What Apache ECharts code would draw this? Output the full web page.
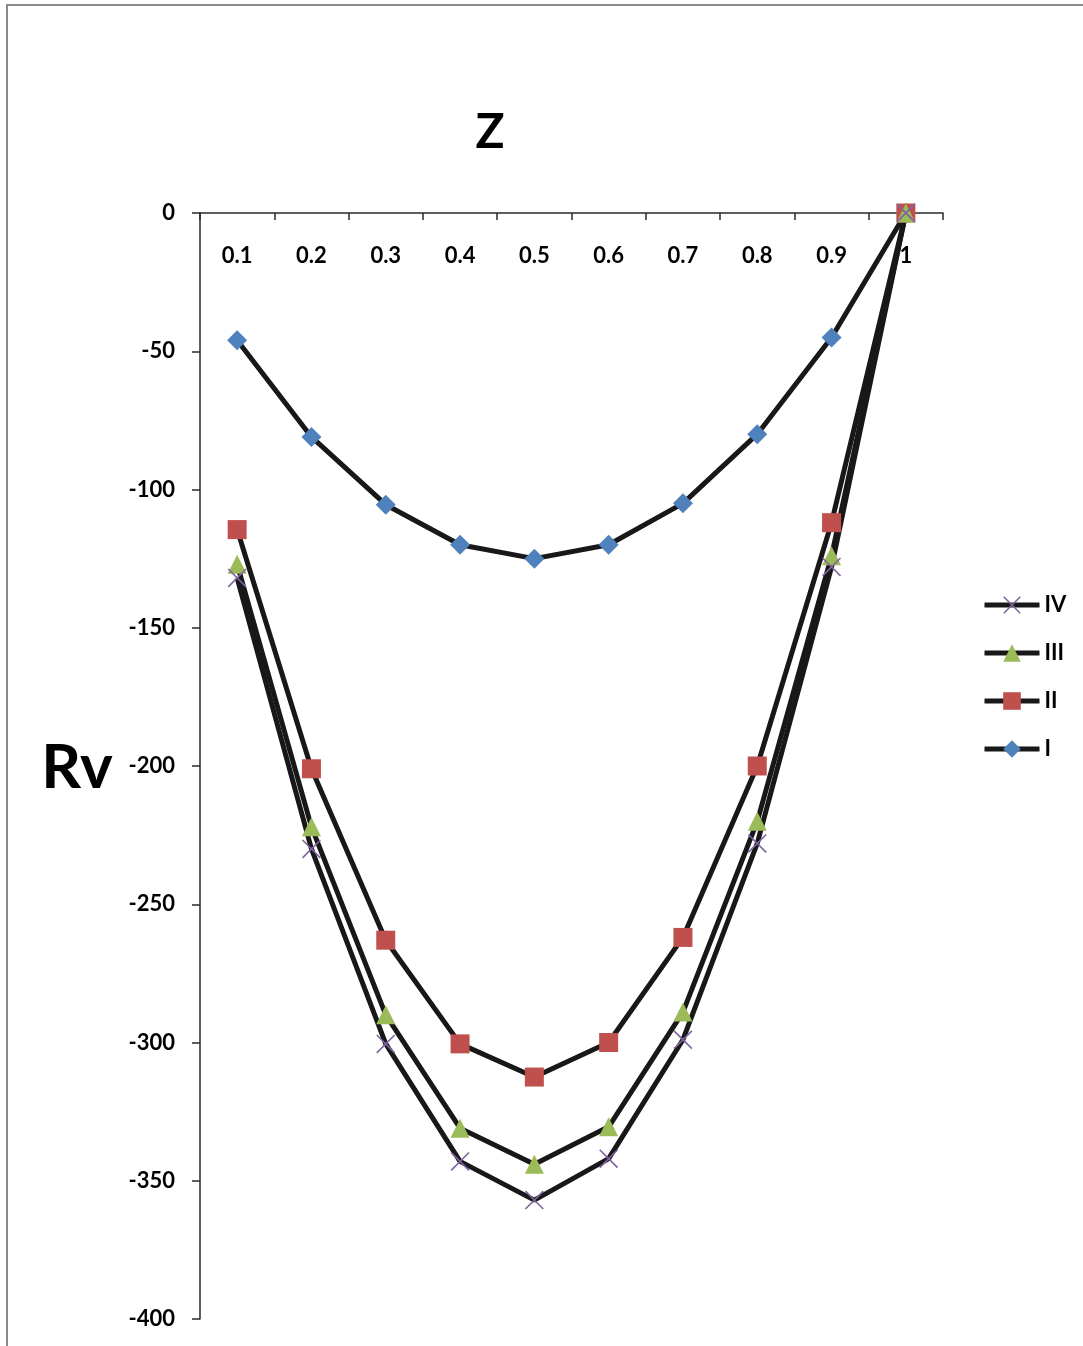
<!DOCTYPE html>
<html>
<head>
<meta charset="utf-8">
<title>Rv vs Z</title>
<script src="https://cdn.jsdelivr.net/npm/echarts@6/dist/echarts.min.js"></script>
<style>
  html, body { margin: 0; padding: 0; background: #ffffff; }
  #chart { width: 1083px; height: 1346px; }
</style>
</head>
<body>
<div id="chart"></div>
<script>
// Z positions along the category axis
const zLabels = ['0.1', '0.2', '0.3', '0.4', '0.5', '0.6', '0.7', '0.8', '0.9', '1'];

// Rv values for each curve
const rvI   = [-46, -81, -105.5, -120, -125, -120, -105, -80, -45, 0];
const rvII  = [-114.5, -201, -263, -300.5, -312.5, -300, -262, -200, -112, 0];
const rvIII = [-127, -222, -290, -331, -344, -330.5, -289, -220, -124, 0];
const rvIV  = [-132, -230, -300.5, -343, -357, -342, -299, -228, -128, 0];

// value axis ticks
const yMin = -400;
const yMax = 0;
const yStep = 50;

const FONT = 'Lato, "Open Sans", sans-serif';
const LINE_COLOR = '#181818';

// thin "x" marker drawn as two crossed bars
const crossPath = 'path://M0,1.2L1.2,0L20,18.8L18.8,20Z M18.8,0L20,1.2L1.2,20L0,18.8Z';

function curve(name, data, symbol, color, size) {
  return {
    name: name,
    type: 'line',
    data: data,
    symbol: symbol,
    symbolSize: size,
    showSymbol: true,
    lineStyle: { color: LINE_COLOR, width: 5 },
    itemStyle: { color: color, borderWidth: 0 },
    emphasis: { disabled: true }
  };
}

const chart = echarts.init(document.getElementById('chart'), null, { renderer: 'canvas' });

chart.setOption({
  animation: false,
  backgroundColor: '#ffffff',
  grid: { left: 200, right: 140, top: 213, bottom: 27, containLabel: false },
  xAxis: {
    type: 'category',
    position: 'top',
    data: zLabels,
    boundaryGap: true,
    axisLine: { show: true, lineStyle: { color: '#2a2a2a', width: 1.5 } },
    axisTick: { show: true, inside: true, length: 7, lineStyle: { color: '#2a2a2a', width: 1.5 } },
    axisLabel: {
      inside: true,
      margin: 32,
      color: '#000',
      fontFamily: FONT,
      fontWeight: 'bold',
      fontSize: 22
    },
    splitLine: { show: false }
  },
  yAxis: {
    type: 'value',
    min: yMin,
    max: yMax,
    interval: yStep,
    axisLine: { show: true, lineStyle: { color: '#2a2a2a', width: 1.5 } },
    axisTick: { show: true, inside: false, length: 8, lineStyle: { color: '#2a2a2a', width: 1.5 } },
    axisLabel: {
      margin: 25,
      color: '#000',
      fontFamily: FONT,
      fontWeight: 'bold',
      fontSize: 22
    },
    splitLine: { show: false }
  },
  legend: {
    orient: 'vertical',
    left: 977,
    top: 589,
    itemWidth: 55,
    itemHeight: 22,
    itemGap: 26,
    data: ['IV', 'III', 'II', 'I'],
    lineStyle: { width: 5, color: LINE_COLOR },
    textStyle: {
      color: '#000',
      fontFamily: FONT,
      fontWeight: 'bold',
      fontSize: 22,
      lineHeight: 22
    }
  },
  graphic: [
    {
      type: 'polyline',
      shape: { points: [[7, 1346], [7, 5], [1083, 5]] },
      style: { stroke: '#8a8a8a', lineWidth: 2, fill: null },
      silent: true
    },
    {
      type: 'text',
      x: 490,
      y: 133,
      style: {
        text: 'Z',
        fill: '#000',
        font: 'bold 48px ' + FONT,
        textAlign: 'center',
        textVerticalAlign: 'middle'
      }
    },
    {
      type: 'text',
      x: 77,
      y: 768,
      style: {
        text: 'Rv',
        fill: '#000',
        font: 'bold 62px ' + FONT,
        textAlign: 'center',
        textVerticalAlign: 'middle'
      }
    }
  ],
  series: [
    curve('I', rvI, 'diamond', '#4F81BD', 20),
    curve('II', rvII, 'rect', '#C0504D', 19),
    curve('III', rvIII, 'triangle', '#9BBB59', 19),
    curve('IV', rvIV, crossPath, '#8064A2', 19)
  ]
});
</script>
</body>
</html>
